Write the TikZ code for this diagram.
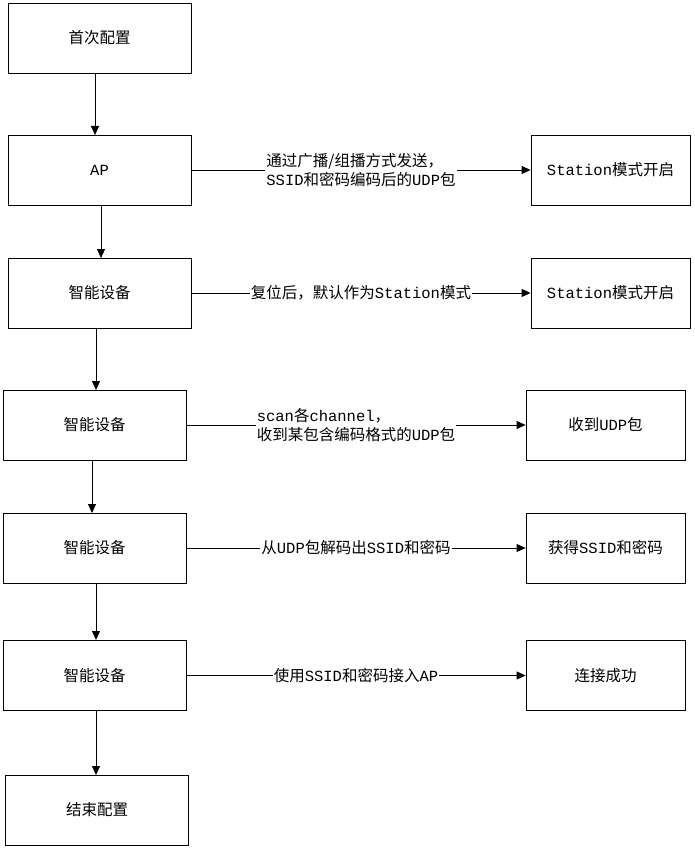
\documentclass[tikz,border=0pt]{standalone}
\usepackage{fontspec}
\setmainfont{Noto Sans CJK SC}
\newfontfamily\mono{Liberation Mono}
\newcommand{\m}[1]{{\mono #1}}
\usetikzlibrary{arrows.meta}
\begin{document}
\begin{tikzpicture}[x=1pt,y=-1pt,
  box/.style={draw,line width=0.8pt,minimum width=183pt,minimum height=70pt,inner sep=0pt,font=\fontsize{15.5}{18}\selectfont},
  rbox/.style={draw,line width=0.8pt,minimum width=159pt,minimum height=70pt,inner sep=0pt,font=\fontsize{15.5}{18}\selectfont},
  arr/.style={-{Triangle[length=9pt,width=8pt]},line width=0.8pt},
  lab/.style={fill=white,inner sep=1pt,align=left,font=\fontsize{15.5}{19}\selectfont}]
\useasboundingbox (0,0) rectangle (694,848);
\node[box] (a) at (99.5,38) {首次配置};
\node[box] (b) at (99.5,170) {\m{AP}};
\node[rbox] (bs) at (610.5,170) {\m{Station}模式开启};
\node[box] (c) at (99.5,293) {智能设备};
\node[rbox] (cs) at (610.5,293) {\m{Station}模式开启};
\node[box] (d) at (94.5,425) {智能设备};
\node[rbox] (ds) at (605.5,425) {收到\m{UDP}包};
\node[box] (e) at (94.5,548) {智能设备};
\node[rbox] (es) at (605.5,548) {获得\m{SSID}和密码};
\node[box] (f) at (94.5,675.5) {智能设备};
\node[rbox] (fs) at (605.5,675.5) {连接成功};
\node[box] (g) at (97,810) {结束配置};
\draw[arr] (95,73) -- (95,135);
\draw[arr] (101,205) -- (101,258);
\draw[arr] (96,328) -- (96,390);
\draw[arr] (92,460) -- (92,513);
\draw[arr] (96,583) -- (96,640);
\draw[arr] (96,711) -- (96,775);
\draw[arr] (b.east) -- node[lab]{通过广播/组播方式发送，\\\m{SSID}和密码编码后的\m{UDP}包} (bs.west);
\draw[arr] (c.east) -- node[lab]{复位后，默认作为\m{Station}模式} (cs.west);
\draw[arr] (d.east) -- node[lab]{\m{scan}各\m{channel}，\\收到某包含编码格式的\m{UDP}包} (ds.west);
\draw[arr] (e.east) -- node[lab]{从\m{UDP}包解码出\m{SSID}和密码} (es.west);
\draw[arr] (f.east) -- node[lab]{使用\m{SSID}和密码接入\m{AP}} (fs.west);
\end{tikzpicture}
\end{document}
